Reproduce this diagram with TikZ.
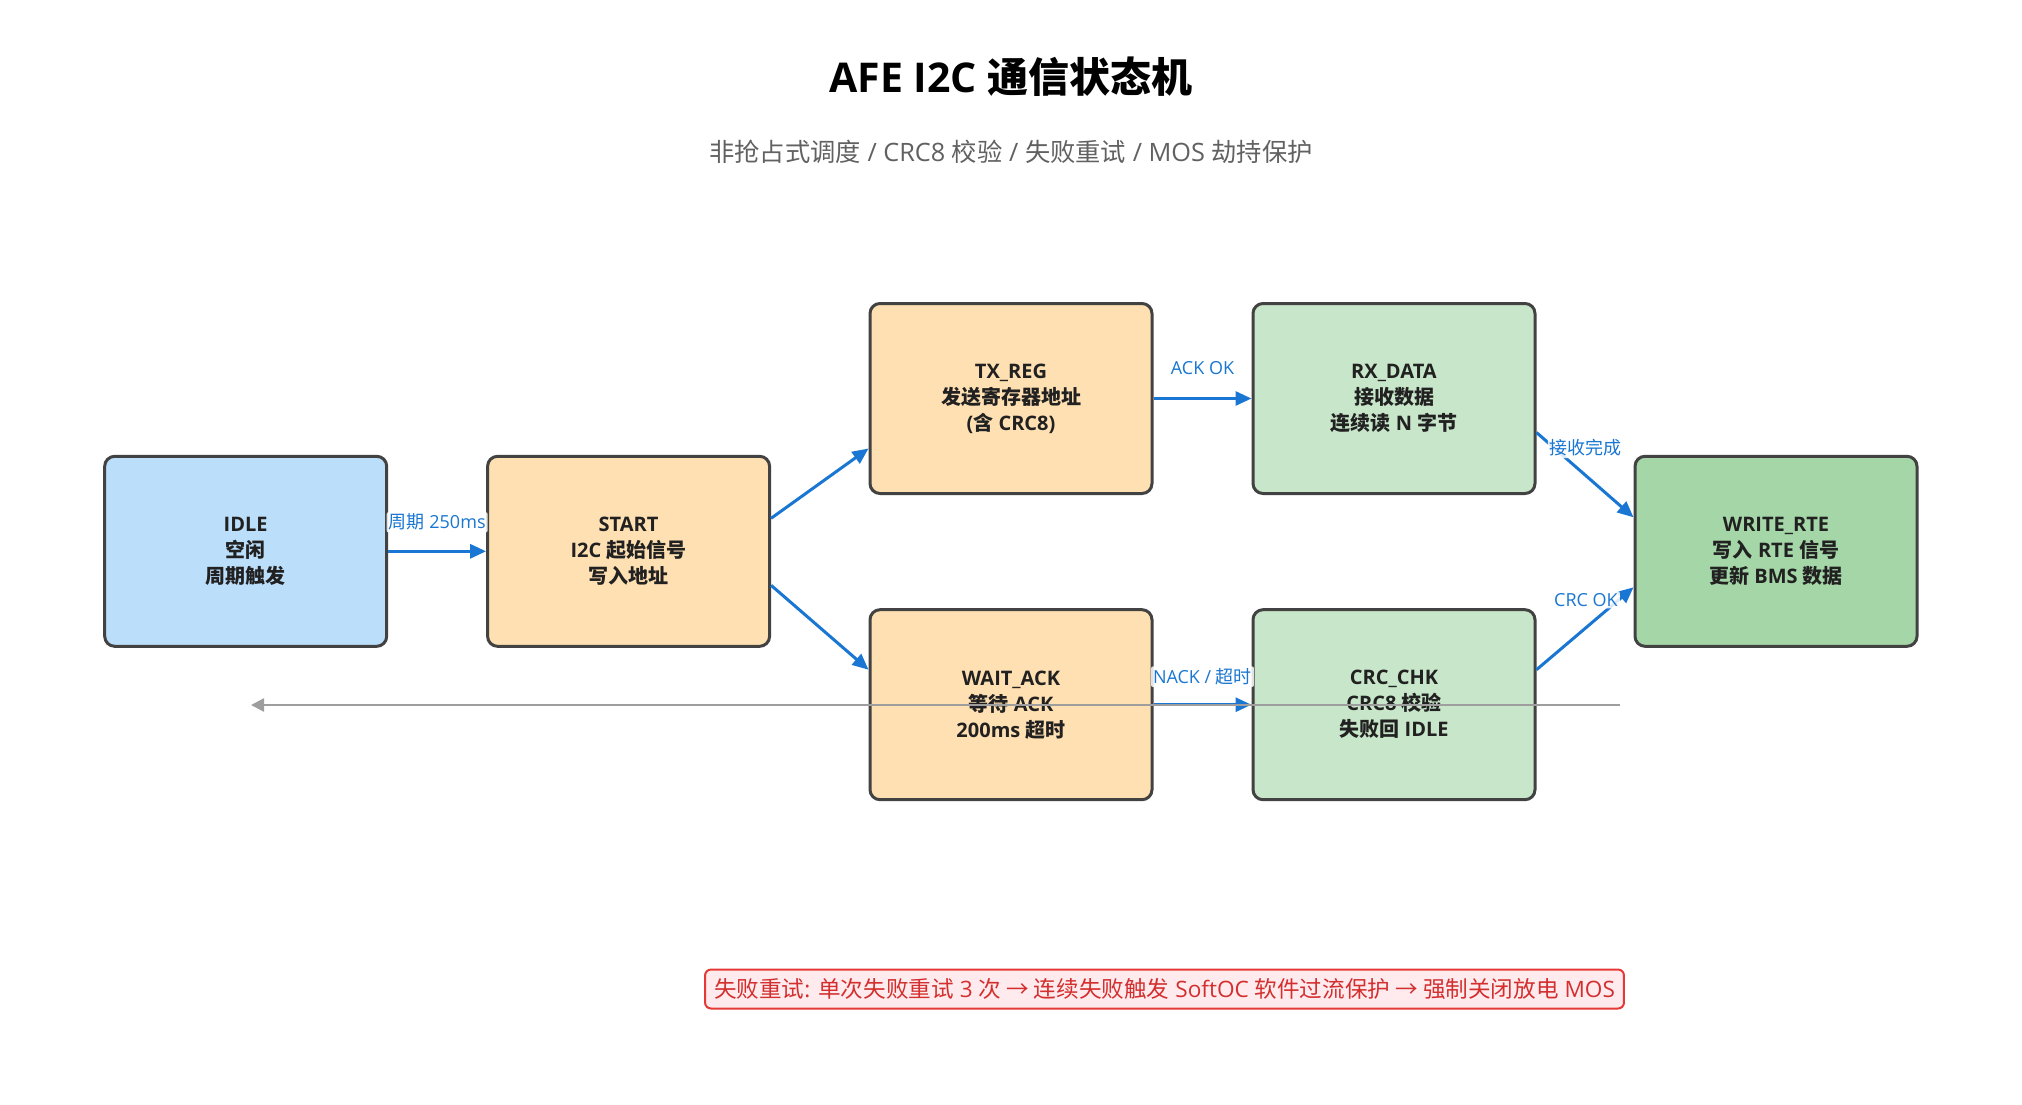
\documentclass[tikz,border=0pt]{standalone}
\usepackage{fontspec}
\setmainfont{Noto Sans CJK SC}
\newfontfamily\latfam{Open Sans}
\newcommand\LatRun[1]{{\latfam #1}}
\usetikzlibrary{arrows.meta,calc}
\definecolor{bordergray}{HTML}{424242}
\definecolor{idlefill}{HTML}{BBDEFB}
\definecolor{orfill}{HTML}{FFE0B2}
\definecolor{grfill}{HTML}{C8E6C9}
\definecolor{gr2fill}{HTML}{A5D6A7}
\definecolor{arrblue}{HTML}{1976D2}
\definecolor{txtdark}{HTML}{212121}
\definecolor{subgray}{HTML}{616161}
\definecolor{linegray}{HTML}{9E9E9E}
\definecolor{notered}{HTML}{D32F2F}
\definecolor{noteborder}{HTML}{E53935}
\definecolor{notefill}{HTML}{FFEBEE}
\tikzset{
  statebox/.style={draw=bordergray, line width=3pt, rounded corners=10pt,
    minimum width=282pt, minimum height=190pt, align=center, text=txtdark,
    font=\bfseries\fontsize{20}{26}\selectfont, inner sep=0pt},
  flow/.style={draw=arrblue, line width=3pt, -{Triangle[length=16pt,width=14pt]}},
  lbl/.style={font=\fontsize{18}{20}\selectfont, text=arrblue, fill=white,
    fill opacity=0.85, text opacity=1, inner sep=2pt, rounded corners=2pt},
}
\begin{document}
\begin{tikzpicture}[x=1pt,y=-1pt]
\useasboundingbox (0,0) rectangle (2022,1104);
\node[font=\bfseries\fontsize{41}{46}\selectfont, text=black] (title) at (1011,77) {\LatRun{AFE I2C }通信状态机};
\node[font=\fontsize{25.3}{30}\selectfont, text=subgray] (sub) at (1011,152) {非抢占式调度\LatRun{ / CRC8 }校验\LatRun{ / }失败重试\LatRun{ / MOS }劫持保护};

\node[statebox, fill=idlefill] (idle) at (245.7,551.3) {\LatRun{IDLE}\\空闲\\周期触发};
\node[statebox, fill=orfill] (start) at (628.6,551.3) {\LatRun{START}\\\LatRun{I2C }起始信号\\写入地址};
\node[statebox, fill=orfill] (tx) at (1011,398.5) {\LatRun{TX\_REG}\\发送寄存器地址\\\LatRun{(}含\LatRun{ CRC8)}};
\node[statebox, fill=grfill] (rx) at (1394,398.5) {\LatRun{RX\_DATA}\\接收数据\\连续读\LatRun{ N }字节};
\node[statebox, fill=orfill] (wait) at (1011,704.7) {\LatRun{WAIT\_ACK}\\等待\LatRun{ ACK}\\\LatRun{200ms }超时};
\node[statebox, fill=grfill] (crc) at (1394,704.7) {\LatRun{CRC\_CHK}\\\LatRun{CRC8 }校验\\失败回\LatRun{ IDLE}};
\node[statebox, fill=gr2fill] (write) at (1776,551.3) {\LatRun{WRITE\_RTE}\\写入\LatRun{ RTE }信号\\更新\LatRun{ BMS }数据};

\draw[flow] (idle.east) -- (start.west) node[lbl, midway, yshift=29pt] {周期\LatRun{ 250ms}};
\draw[flow] ($(start.east)+(0,-33)$) -- ($(tx.west)+(0,50)$);
\draw[flow] ($(start.east)+(0,34)$) -- ($(wait.west)+(0,-35)$);
\draw[flow] (tx.east) -- (rx.west) node[lbl, midway, yshift=30pt] {\LatRun{ACK OK}};
\draw[flow] (wait.east) -- (crc.west) node[lbl, midway, yshift=28pt] {\LatRun{NACK / }超时};
\draw[flow] ($(rx.east)+(0,34)$) -- ($(write.west)+(0,-34)$) node[lbl, pos=0.51, yshift=28pt] {接收完成};
\draw[flow] ($(crc.east)+(0,-35)$) -- ($(write.west)+(0,36)$) node[lbl, pos=0.51, yshift=28pt] {\LatRun{CRC OK}};

\coordinate (gs) at (1620,705);
\coordinate (ge) at (251,705);
\draw[draw=linegray, line width=2.5pt, -{Triangle[length=13pt,width=13pt]}] (gs) -- (ge);

\node[draw=noteborder, fill=notefill, line width=2pt, rounded corners=6pt, text=notered,
  font=\fontsize{22.6}{26}\selectfont, minimum height=39pt, inner xsep=9pt, inner ysep=4pt] (note) at (1164.5,989)
  {失败重试\LatRun{: }单次失败重试\LatRun{ 3 }次 → 连续失败触发\LatRun{ SoftOC }软件过流保护 → 强制关闭放电\LatRun{ MOS}};
\end{tikzpicture}
\end{document}
